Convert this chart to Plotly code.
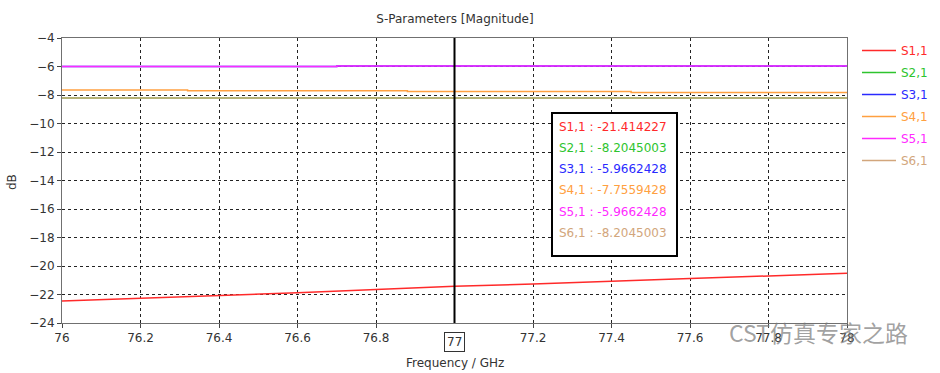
import plotly.graph_objects as go

# ---- data ----
freq = [76.0, 76.2, 76.4, 76.6, 76.8, 77.0, 77.2, 77.4, 77.6, 77.8, 78.0]
s11 = [-22.45, -22.27, -22.08, -21.88, -21.65, -21.414, -21.27, -21.05, -20.87, -20.70, -20.51]

f_s21 = [76.0, 78.0]
s21 = [-8.2045003, -8.2045003]

f_s31 = [76.0, 76.7, 78.0]
s31 = [-6.0, -5.9662428, -5.9662428]

f_s41 = [76.0, 76.32, 76.88, 77.45, 78.0]
s41 = [-7.65, -7.70, -7.7559428, -7.82, -7.82]

f_s51 = [76.0, 76.7, 78.0]
s51 = [-6.0, -5.9662428, -5.9662428]

f_s61 = [76.0, 78.0]
s61 = [-8.2045003, -8.2045003]

names = ["S1,1", "S2,1", "S3,1", "S4,1", "S5,1", "S6,1"]
colors = ["#ff2a2a", "#2ec42e", "#2a2aff", "#ffa040", "#ff2aff", "#d2a67c"]
marker_freq = 77.0
marker_values = ["-21.414227", "-8.2045003", "-5.9662428", "-7.7559428", "-5.9662428", "-8.2045003"]

x_ticks = [76, 76.2, 76.4, 76.6, 76.8, 77.2, 77.4, 77.6, 77.8, 78]
x_ticktext = ["76", "76.2", "76.4", "76.6", "76.8", "77.2", "77.4", "77.6", "77.8", "78"]
y_ticks = [-4, -6, -8, -10, -12, -14, -16, -18, -20, -22, -24]

FONT = "DejaVu Sans"

series = [
    (freq, s11, "linear"),
    (f_s21, s21, "hv"),
    (f_s31, s31, "hv"),
    (f_s41, s41, "hv"),
    (f_s51, s51, "hv"),
    (f_s61, s61, "hv"),
]

fig = go.Figure()
for i, ((xs, ys, shape), name, col) in enumerate(zip(series, names, colors)):
    fig.add_trace(go.Scatter(
        x=xs, y=ys, mode="lines", line=dict(color=col, width=1.5, shape=shape),
        name=f"<span style='color:{col}'>{name}</span>", legendgroup=f"g{i}",
    ))

W, H = 940, 373
# plot area in screen pixels: x 62..847, y 38..323
L, R, T, B = 62, W - 847, 38, H - 323
pw, ph = W - L - R, H - T - B

def px_x(sx):
    return (sx - L) / pw

def px_y(sy):
    return (H - B - sy) / ph

fig.update_layout(
    width=W, height=H,
    margin=dict(l=L, r=R, t=T, b=B, autoexpand=False),
    paper_bgcolor="white", plot_bgcolor="white",
    font=dict(family=FONT, size=12, color="#333333"),
    title=dict(text="S-Parameters [Magnitude]", x=455 / W, xanchor="center",
               y=1 - 19 / H, yanchor="middle", font=dict(size=12, color="#333333")),
    showlegend=True,
    legend=dict(x=px_x(857), xanchor="left", y=px_y(36), yanchor="top",
                font=dict(family=FONT, size=12), itemwidth=34,
                bgcolor="rgba(0,0,0,0)", tracegroupgap=3),
    xaxis=dict(range=[76, 78], tickvals=x_ticks, ticktext=x_ticktext,
               showgrid=True, gridcolor="#222222", griddash="dot", gridwidth=1,
               showline=True, linecolor="#707070", linewidth=1, mirror=True,
               ticks="outside", ticklen=4, tickcolor="#444444",
               zeroline=False, tickfont=dict(size=12, color="#333333")),
    yaxis=dict(range=[-24, -4], tickvals=y_ticks,
               showgrid=True, gridcolor="#222222", griddash="dot", gridwidth=1,
               showline=True, linecolor="#707070", linewidth=1, mirror=True,
               ticks="outside", ticklen=4, tickcolor="#444444",
               zeroline=False, tickfont=dict(size=12, color="#333333")),
)

# marker line
fig.add_shape(type="line", xref="x", yref="paper", x0=marker_freq, x1=marker_freq,
              y0=0, y1=1, line=dict(color="black", width=2))

# marker value box
fig.add_shape(type="rect", xref="paper", yref="paper",
              x0=px_x(552), x1=px_x(677), y0=px_y(256), y1=px_y(113),
              line=dict(color="black", width=2), fillcolor="white", layer="above")
row_y = [127, 148, 169, 190, 212, 233]
for name, val, col, ry in zip(names, marker_values, colors, row_y):
    fig.add_annotation(xref="paper", yref="paper", x=px_x(557), y=px_y(ry),
                       xanchor="left", yanchor="middle", showarrow=False,
                       text=f"{name} : {val}", font=dict(family=FONT, size=12, color=col))

# marker frequency label with box
fig.add_annotation(xref="x", yref="paper", x=marker_freq, y=px_y(342),
                   xanchor="center", yanchor="middle", showarrow=False,
                   text="77", font=dict(family=FONT, size=12, color="#333333"),
                   bordercolor="#333333", borderwidth=1, borderpad=2, bgcolor="white")

# axis titles
fig.add_annotation(xref="paper", yref="paper", x=px_x(455), y=px_y(363),
                   xanchor="center", yanchor="middle", showarrow=False,
                   text="Frequency / GHz", font=dict(family=FONT, size=12, color="#333333"))
fig.add_annotation(xref="paper", yref="paper", x=px_x(12), y=px_y(182),
                   xanchor="center", yanchor="middle", showarrow=False, textangle=-90,
                   text="dB", font=dict(family=FONT, size=12, color="#333333"))

# watermark
fig.add_annotation(xref="paper", yref="paper", x=px_x(818), y=px_y(332),
                   xanchor="center", yanchor="middle", showarrow=False,
                   text="CST仿真专家之路",
                   font=dict(family="Noto Sans CJK SC", size=23, color="rgba(120,120,120,0.7)"))

# remove the default page margin so the figure fills the 940x373 window
fig.write_html("out.html", config={"displayModeBar": False},
               post_script="document.body.style.margin='0';")
